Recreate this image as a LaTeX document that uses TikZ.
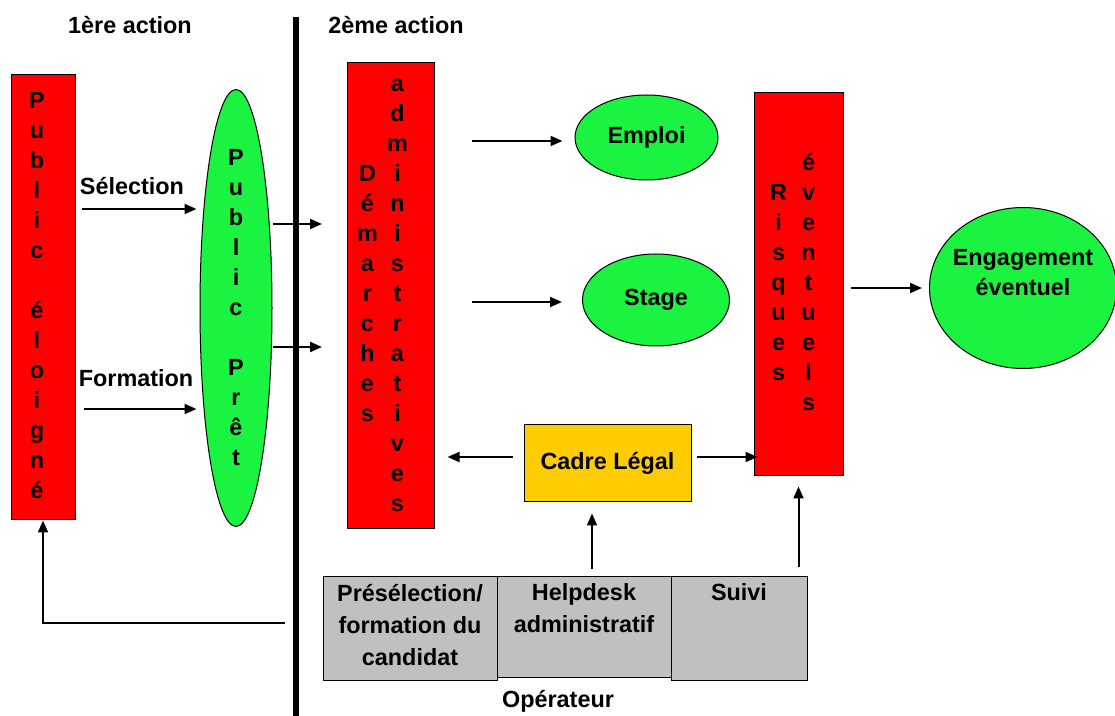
\documentclass[tikz,border=0pt]{standalone}
\usepackage{fontspec}
\setmainfont{Liberation Sans}
\usepackage{array}
\usetikzlibrary{shapes.geometric,arrows.meta,positioning}

\definecolor{boxred}{RGB}{255,0,0}
\definecolor{boxgreen}{RGB}{26,243,64}
\definecolor{boxyellow}{RGB}{255,204,0}
\definecolor{boxgray}{RGB}{192,192,192}

\begin{document}
\begin{tikzpicture}[x=0.5pt,y=-0.5pt,
  every node/.style={font=\bfseries\fontsize{11.7}{15}\selectfont,
    inner sep=2pt, align=center},
  redbar/.style={draw,line width=0.5pt,fill=boxred},
  greenell/.style={draw,line width=0.5pt,fill=boxgreen,ellipse,inner sep=-8pt},
  graybox/.style={draw,line width=0.5pt,fill=boxgray},
  arr/.style={-{Triangle[length=6pt,width=5pt]},line width=1pt}]
\useasboundingbox (0,0) rectangle (1115,716);

% separation line
\coordinate (bartop) at (296,17);
\coordinate (barbot) at (296,716);
\draw[line width=3pt] (bartop) -- (barbot);
\node (act1) at (130,25) {1ère action};
\node (act2) at (396,25) {2ème action};

% first action
\node[redbar,minimum width=32pt,minimum height=222.5pt] (elo) at (43,297.5)
  {\begin{tabular}{@{}c@{\hspace{6pt}}}
   P\\u\\b\\l\\i\\c\\~\\é\\l\\o\\i\\g\\n\\é
   \end{tabular}};
\node[greenell,minimum width=36pt,minimum height=218.5pt] (pret) at (236,308)
  {P\\u\\b\\l\\i\\c\\~\\P\\r\\ê\\t};
\node (sel) at (132,186) {Sélection};
\node (form) at (136,378) {Formation};

% second action
\node[redbar,minimum width=43.5pt,minimum height=233pt] (dem) at (390.5,296)
  {\begin{tabular}{@{}wc{7pt}@{\hspace{8pt}}wc{7pt}@{\hspace{8pt}}}
   & a\\ & d\\ & m\\ D & i\\ é & n\\ m & i\\ a & s\\ r & t\\
   c & r\\ h & a\\ e & t\\ s & i\\ & v\\ & e\\ & s
   \end{tabular}};
\node[greenell,minimum width=71.5pt,minimum height=42.5pt] (emploi) at (646.5,137.5) {Emploi};
\node[greenell,minimum width=73.5pt,minimum height=46pt] (stage) at (656,300) {Stage};
\node[redbar,minimum width=44.5pt,minimum height=191.5pt] (risk) at (798.5,284.5)
  {\begin{tabular}{@{}wc{7pt}@{\hspace{8pt}}wc{7pt}@{\hspace{5pt}}}
   & é\\ R & v\\ i & e\\ s & n\\ q & t\\ u & u\\ e & e\\ s & l\\ & s
   \end{tabular}};
\node[greenell,minimum width=93.5pt,minimum height=80.5pt,text depth=16pt] (eng) at (1023,288)
  {Engagement\\éventuel};
\node[draw,line width=0.5pt,fill=boxyellow,minimum width=83.5pt,minimum height=38.5pt] (cadre)
  at (607.5,463.5) {Cadre Légal};

% operator boxes
\node[graybox] (presel) at (410,629)
  {\parbox[t][48pt][t]{83pt}{\centering\fontsize{11.7}{16}\selectfont
   \vspace*{1.5pt}Présélection/\\formation du\\candidat}};
\node[graybox] (help) at (584,627.5)
  {\parbox[t][46.5pt][t]{83pt}{\centering\fontsize{11.7}{16}\selectfont
   \vspace*{1.5pt}Helpdesk\\administratif}};
\node[graybox] (suivi) at (739,629)
  {\parbox[t][48pt][t]{64pt}{\centering\vspace*{1.5pt}Suivi}};
\node (oper) at (558,701) {Opérateur};

% connectors
\coordinate (sel0) at (82,209);
\coordinate (form0) at (84,409);
\coordinate (dem1) at (322,224);
\coordinate (dem2) at (322,347);
\coordinate (emp0) at (472,141);
\coordinate (sta0) at (472,302);
\coordinate (fb) at (285,623);
\draw[arr,shorten >=1.5pt] (sel0) -- (sel0 -| pret.west);
\draw[arr,shorten >=1.5pt] (form0) -- (form0 -| pret.west);
\draw[arr] (pret.east |- dem1) -- (dem1);
\draw[arr] (pret.east |- dem2) -- (dem2);
\draw[arr,shorten >=6pt] (emp0) -- (emp0 -| emploi.west);
\draw[arr,shorten >=10pt] (sta0) -- (sta0 -| stage.west);
\draw[arr,shorten <=5.5pt,shorten >=6.5pt] ([yshift=3.25pt]cadre.west) -- ([yshift=3.25pt]cadre.west -| dem.east);
\draw[arr,shorten <=2.5pt,shorten >=-2pt] ([yshift=3.25pt]cadre.east) -- ([yshift=3.25pt]cadre.east -| risk.west);
\draw[arr,shorten <=3.5pt,shorten >=5.5pt] ([xshift=4pt]help.north) -- ([xshift=4pt]help.north |- cadre.south);
\draw[arr,shorten <=4.5pt,shorten >=5pt] (risk.south |- suivi.north) -- (risk.south);
\draw[arr,shorten <=3.5pt,shorten >=3.5pt] (risk.east |- eng.west) -- (eng.west);
\draw[arr] (fb) -| (elo.south);
\end{tikzpicture}
\end{document}
